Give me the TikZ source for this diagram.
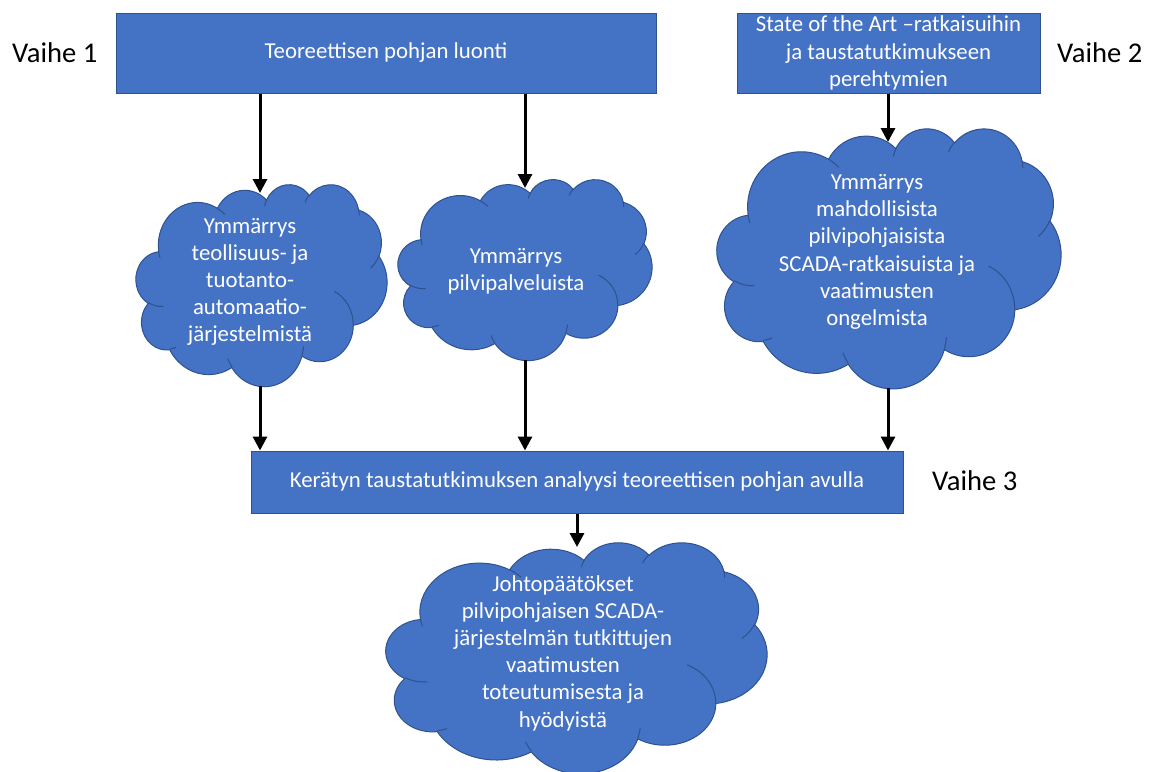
\documentclass[tikz,border=0pt]{standalone}
\usepackage{fontspec}
\setmainfont{Carlito}
\usetikzlibrary{arrows.meta}

\definecolor{officeblue}{HTML}{4472C4}
\definecolor{officeedge}{HTML}{2F528F}

\newcommand\diagfont{\fontsize{22.8}{27.2}\selectfont}
\newcommand\stagefont{\fontsize{28.6}{34}\selectfont}

% Cloud outline built from elliptical arcs, in a 43.2 x 43.2 frame (y pointing down).
% Arc angles are given as visual angles (1/60000 degree) and turned into
% parametric ellipse angles for TikZ.
\def\ooang#1#2#3{atand((#1)*sind(#3),(#2)*cosd(#3))}
\def\ooarc#1#2#3#4{ arc[x radius=\fpeval{(#1)/1000}, y radius=\fpeval{(#2)/1000},
  start angle=\fpeval{round(\ooang{#1}{#2}{(#3)/60000},3)},
  end angle=\fpeval{round(((\ooang{#1}{#2}{((#3)+(#4))/60000}) < (\ooang{#1}{#2}{(#3)/60000}) ? (\ooang{#1}{#2}{((#3)+(#4))/60000})+360 : (\ooang{#1}{#2}{((#3)+(#4))/60000})),3)}] }

\edef\cloudouter{(3.9,14.37)
  \ooarc{6753}{9190}{-11429249}{7426832}
  \ooarc{5333}{7267}{-8646143}{5396714}
  \ooarc{4365}{5945}{-8748475}{5983381}
  \ooarc{4857}{6595}{-7859164}{7034504}
  \ooarc{5333}{7273}{-4722533}{6541615}
  \ooarc{6775}{9220}{-2776035}{7816140}
  \ooarc{5785}{7867}{37501}{6842000}
  \ooarc{6752}{9215}{1347096}{6910353}
  \ooarc{7720}{10543}{3974558}{4542661}
  \ooarc{4360}{5918}{-16496525}{8804134}
  \ooarc{4345}{5945}{-14809710}{9151357} -- cycle}

\edef\cloudinner{%
  (4.693,26.177) \ooarc{4345}{5945}{5204520}{1585770}
  (6.928,34.899) \ooarc{4360}{5918}{4416628}{686848}
  (16.478,39.09) \ooarc{6752}{9215}{8257449}{844866}
  (28.827,34.751) \ooarc{6752}{9215}{387196}{959901}
  (34.129,22.954) \ooarc{5785}{7867}{-4217541}{4255042}
  (41.798,15.354) \ooarc{5333}{7273}{1819082}{1665090}
  (38.324,5.426) \ooarc{4857}{6595}{-824660}{891534}
  (29.078,3.952) \ooarc{4857}{6595}{-8950887}{1091722}
  (22.141,4.72) \ooarc{4365}{5945}{-9809656}{1061181}
  (14,5.192) \ooarc{6753}{9190}{-4002417}{739161}
  (4.127,15.789) \ooarc{6753}{9190}{9459261}{711490}}

% \officecloud{left}{top}{width}{height}
\newcommand\officecloud[4]{%
  \begin{scope}[shift={(#1,#2)}, xscale=#3/43.2, yscale=#4/43.2]
    \path[cloudbody] \cloudouter;
    \path[cloudline] \cloudinner;
  \end{scope}}

\begin{document}
\begin{tikzpicture}[x=1pt, y=-1pt,
  box/.style={draw=officeedge, line width=1pt, fill=officeblue, text=white,
    font=\diagfont, align=center, inner sep=0pt},
  cloudbody/.style={fill=officeblue, draw=officeedge, line width=1pt},
  cloudline/.style={draw=officeedge, line width=1pt},
  cloudtext/.style={text=white, font=\diagfont, align=center, inner sep=0pt},
  phase/.style={font=\stagefont, text=black, anchor=base west, inner sep=0pt},
  flow/.style={line width=3pt, -{Triangle[length=14pt,width=14pt]}}]

\useasboundingbox (0,0) rectangle (1155,771);

% phase labels
\node[phase] (p1) at (12,62) {Vaihe 1};
\node[phase] (p2) at (1057,62) {Vaihe 2};
\node[phase] (p3) at (932,490) {Vaihe 3};

% rectangles
\node[box, minimum width=540pt, minimum height=80pt] (theory) at (386,53)
  {Teoreettisen pohjan luonti};
\node[box, minimum width=303pt, minimum height=80pt] (sota) at (888.5,53)
  {State of the Art –ratkaisuihin\\ja taustatutkimukseen\\perehtymien};
\node[box, minimum width=652pt, minimum height=62pt] (analysis) at (577,482)
  {Kerätyn taustatutkimuksen analyysi teoreettisen pohjan avulla};

% clouds
\officecloud{136}{184}{251}{202}
\officecloud{398}{179}{254}{181}
\officecloud{717}{128}{344}{260}
\officecloud{386}{542}{381}{231}

\node[cloudtext] (u1) at (250,282)
  {Ymmärrys\\teollisuus- ja\\tuotanto-\\automaatio-\\järjestelmistä};
\node[cloudtext] (u2) at (516,271) {Ymmärrys\\pilvipalveluista};
\node[cloudtext] (u3) at (877,252)
  {Ymmärrys\\mahdollisista\\pilvipohjaisista\\SCADA-ratkaisuista ja\\vaatimusten\\ongelmista};
\node[cloudtext] (u4) at (563,653)
  {Johtopäätökset\\pilvipohjaisen SCADA-\\järjestelmän tutkittujen\\vaatimusten\\toteutumisesta ja\\hyödyistä};

% connection points on the cloud outlines
\coordinate (c1n) at (260,193);
\coordinate (c1s) at (260,386);
\coordinate (c2n) at (525,188);
\coordinate (c2s) at (525,360);
\coordinate (c3n) at (888,142);
\coordinate (c3s) at (888,388);
\coordinate (c4n) at (577,547);

% connectors
\draw[flow] (theory.south -| c1n) -- (c1n);
\draw[flow] (theory.south -| c2n) -- (c2n);
\draw[flow] (sota.south -| c3n) -- (c3n);
\draw[flow] (c1s) -- (c1s |- analysis.north);
\draw[flow] (c2s) -- (c2s |- analysis.north);
\draw[flow] (c3s) -- (c3s |- analysis.north);
\draw[flow] (analysis.south -| c4n) -- (c4n);
\end{tikzpicture}
\end{document}
